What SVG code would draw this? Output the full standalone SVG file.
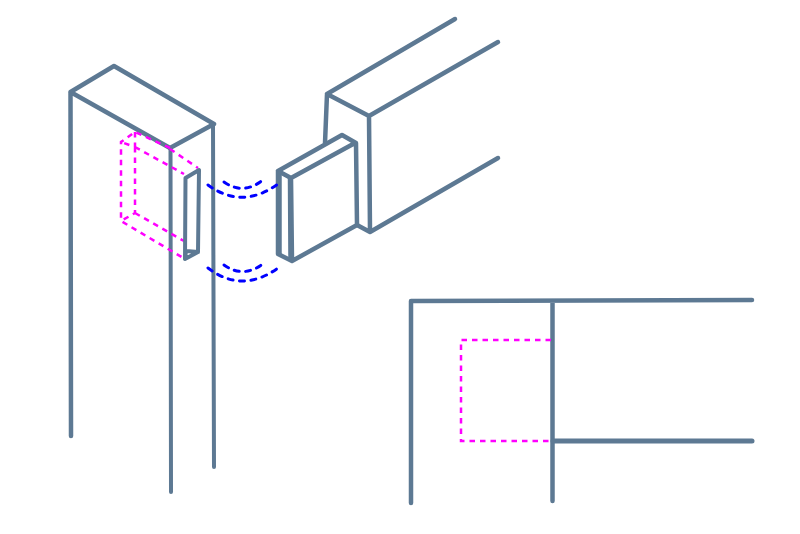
<svg xmlns="http://www.w3.org/2000/svg" width="800" height="534" viewBox="0 0 800 534">
<style>
.l{fill:none;stroke:#5d7993;stroke-width:4.500;stroke-linecap:round;stroke-linejoin:round}
.t{stroke-width:3.500}
.m{fill:none;stroke:#ff00ff;stroke-width:2.500;stroke-dasharray:5.500 5}
.b{fill:none;stroke:#0000ff;stroke-width:3;stroke-dasharray:5 6.500;stroke-linecap:round}
</style>
<rect width="800" height="534" fill="#fff"/>
<g id="post">
<path class="l" d="M71 436 L70.500 92 L114 66 L214 124 L170 148 L70.500 92"/>
<path class="l" style="stroke-width:4" d="M170.500 148 L171 492 M213 124 L214 467"/>
</g>
<g id="mortise-hidden">
<path class="m" d="M170 148 L135 132 L121 142 L121 221 L185 259"/>
<path class="m" d="M135 132 L135 147 L121 142 M135 147 L184 174 M135 147 L135 213 L121 221 M135 213 L184 241 M170 149 L198 168"/>
</g>
<g id="mortise">
<path class="l" style="stroke-width:4" d="M185 259 L185.500 178 L199 170 L198 252 L185 259 L186 251 L198 252"/>
</g>
<g id="beam">
<path class="l" d="M327 94 L455 19 M369 116 L498 42 M327 94 L369 116 L370 232 L498 158 M370 232 L357 225 M327 94 L325 143"/>
</g>
<g id="tenon">
<path class="l" d="M278 171 L342 135 L356 143 L357 225 L292 261 L278 254 L278 171 L291 178 L292 261 M291 178 L355 143"/>
<path class="l t" d="M280 172 L280 254 M289.500 178 L290 259"/>
</g>
<g id="wood-joint-arrows">
<path class="b" d="M208 185 Q242 210 278 184"/>
<path class="b" d="M224 182 Q244 196 264 179"/>
<path class="b" d="M208 268 Q242 294 278 268"/>
<path class="b" d="M224 265 Q244 279 264 263"/>
</g>
<g id="elevation">
<path class="l" d="M411 503 L411 301 L752 300 M552.500 301 L552.500 501"/>
<path class="l" style="stroke-width:5" d="M553 441 L752 441"/>
<path class="m" d="M551 340 L461 340 L461 441 L551 441"/>
</g>
</svg>
